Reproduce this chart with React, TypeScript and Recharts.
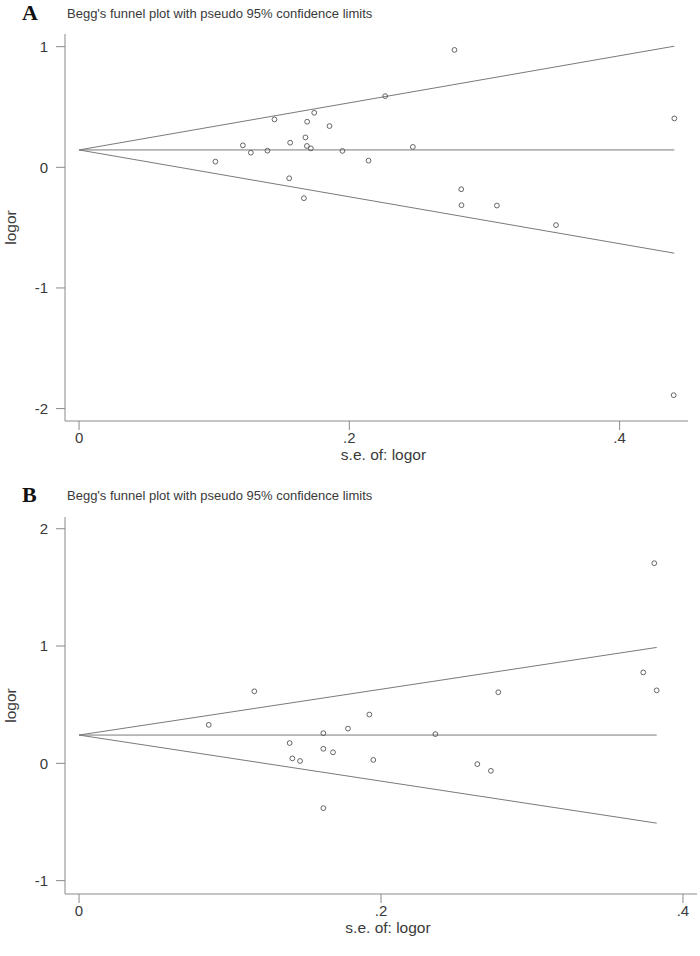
import React from 'react';
import { ComposedChart, Scatter, XAxis, YAxis } from 'recharts';

// Panel A data
const seA = [0.2265, 0.174, 0.1446, 0.1688, 0.1853, 0.1675, 0.1562, 0.1212, 0.1686, 0.1715, 0.247, 0.1271, 0.1394, 0.1949, 0.1009, 0.2142, 0.1555, 0.1664, 0.2778, 0.4405, 0.2828, 0.283, 0.3092, 0.3529, 0.44];
const logorA = [0.59, 0.452, 0.397, 0.378, 0.342, 0.248, 0.204, 0.182, 0.177, 0.157, 0.169, 0.121, 0.138, 0.136, 0.047, 0.055, -0.091, -0.256, 0.973, 0.405, -0.182, -0.314, -0.317, -0.479, -1.889];
const funnelSeA = [0, 0.4405];
const upperA = [0.144, 1.004];
const centerA = [0.144, 0.144];
const lowerA = [0.144, -0.712];

// Panel B data
const seB = [0.1161, 0.0859, 0.1923, 0.1781, 0.1618, 0.236, 0.1395, 0.1618, 0.1682, 0.1413, 0.1464, 0.1949, 0.2638, 0.2728, 0.1618, 0.2777, 0.381, 0.3737, 0.3826];
const logorB = [0.614, 0.328, 0.416, 0.296, 0.257, 0.249, 0.173, 0.124, 0.094, 0.042, 0.02, 0.029, -0.007, -0.064, -0.382, 0.606, 1.706, 0.775, 0.622];
const funnelSeB = [0, 0.3826];
const upperB = [0.241, 0.988];
const centerB = [0.241, 0.241];
const lowerB = [0.241, -0.51];

const xTicks = [0, 0.2, 0.4];
const xTickLabels = ['0', '.2', '.4'];
const yTicksA = [-2, -1, 0, 1];
const yTicksB = [-1, 0, 1, 2];

const titleText = "Begg's funnel plot with pseudo 95% confidence limits";
const xTitle = 's.e. of: logor';
const yTitle = 'logor';

const FONT = '"Liberation Sans", Arial, sans-serif';
const TEXT = '#3a3a3a';
const AXIS = '#8a8a8a';
const LINE = '#7a7a7a';
const DOT = '#555555';

const toPts = (xs: number[], ys: number[]) => xs.map((x, i) => ({ se: x, logor: ys[i] }));

const Hollow = (p: any) => (
  <circle cx={p.cx} cy={p.cy} r={2.4} fill="none" stroke={DOT} strokeWidth={0.9} />
);
const NoShape = () => <g />;

const fmtX = (v: number) => {
  const i = xTicks.findIndex((t) => Math.abs(t - v) < 1e-9);
  return i >= 0 ? xTickLabels[i] : String(v);
};

interface PanelProps {
  top: number;
  height: number;
  marginTop: number;
  marginBottom: number;
  marginRight: number;
  xDomain: [number, number];
  yDomain: [number, number];
  yTicks: number[];
  pts: { se: number; logor: number }[];
  fSe: number[];
  up: number[];
  mid: number[];
  low: number[];
}

const Panel = (pp: PanelProps) => {
  const YLabel = (props: any) => {
    const vb = props.viewBox || { x: 0, y: 0, width: 0, height: 0 };
    const cy = vb.y + vb.height / 2;
    return (
      <text x={16} y={cy} transform={`rotate(-90, 16, ${cy})`} textAnchor="middle" fontSize={15.5} fill={TEXT} fontFamily={FONT}>
        {yTitle}
      </text>
    );
  };
  const XLabel = (props: any) => {
    const vb = props.viewBox || { x: 0, y: 0, width: 0, height: 0 };
    return (
      <text x={vb.x + vb.width / 2 + 7} y={vb.y + 39} textAnchor="middle" fontSize={15.5} fill={TEXT} fontFamily={FONT}>
        {xTitle}
      </text>
    );
  };
  return (
    <div style={{ position: 'absolute', left: 0, top: pp.top, width: 700, height: pp.height }}>
      <ComposedChart
        width={700}
        height={pp.height}
        margin={{ top: pp.marginTop, right: pp.marginRight, bottom: pp.marginBottom, left: 0 }}
      >
        <XAxis
          type="number"
          dataKey="se"
          domain={pp.xDomain}
          ticks={xTicks}
          tickFormatter={fmtX}
          allowDataOverflow
          height={40}
          tickSize={9}
          tickMargin={2}
          stroke={AXIS}
          tick={{ fill: TEXT, fontSize: 15, fontFamily: FONT }}
          label={XLabel}
        />
        <YAxis
          type="number"
          dataKey="logor"
          domain={pp.yDomain}
          ticks={pp.yTicks}
          allowDataOverflow
          width={65}
          tickSize={9}
          tickMargin={8}
          stroke={AXIS}
          tick={{ fill: TEXT, fontSize: 15, fontFamily: FONT }}
          label={YLabel}
        />
        <Scatter data={toPts(pp.fSe, pp.up)} line={{ stroke: LINE, strokeWidth: 1 }} shape={NoShape} isAnimationActive={false} legendType="none" />
        <Scatter data={toPts(pp.fSe, pp.mid)} line={{ stroke: LINE, strokeWidth: 1 }} shape={NoShape} isAnimationActive={false} legendType="none" />
        <Scatter data={toPts(pp.fSe, pp.low)} line={{ stroke: LINE, strokeWidth: 1 }} shape={NoShape} isAnimationActive={false} legendType="none" />
        <Scatter data={pp.pts} shape={Hollow} isAnimationActive={false} legendType="none" />
      </ComposedChart>
    </div>
  );
};

export default function App() {
  return (
    <div style={{ position: 'absolute', left: 0, top: 0, width: 700, height: 956, background: '#fff' }}>
      <Panel
        top={0}
        height={483}
        marginTop={34}
        marginBottom={22}
        marginRight={12}
        xDomain={[-0.0104, 0.4506]}
        yDomain={[-2.103, 1.105]}
        yTicks={yTicksA}
        pts={toPts(seA, logorA)}
        fSe={funnelSeA}
        up={upperA}
        mid={centerA}
        low={lowerA}
      />
      <Panel
        top={483}
        height={473}
        marginTop={34}
        marginBottom={22}
        marginRight={3}
        xDomain={[-0.0093, 0.4093]}
        yDomain={[-1.114, 2.1]}
        yTicks={yTicksB}
        pts={toPts(seB, logorB)}
        fSe={funnelSeB}
        up={upperB}
        mid={centerB}
        low={lowerB}
      />
      <svg width={700} height={956} style={{ position: 'absolute', left: 0, top: 0, pointerEvents: 'none' }}>
        <text x={22} y={20} fontSize={22} fontWeight="bold" fontFamily='"Liberation Serif", "Times New Roman", serif' fill="#111">A</text>
        <text x={67} y={18} fontSize={13} fontFamily={FONT} fill={TEXT}>{titleText}</text>
        <text x={22} y={502} fontSize={22} fontWeight="bold" fontFamily='"Liberation Serif", "Times New Roman", serif' fill="#111">B</text>
        <text x={67} y={500} fontSize={13} fontFamily={FONT} fill={TEXT}>{titleText}</text>
      </svg>
    </div>
  );
}
